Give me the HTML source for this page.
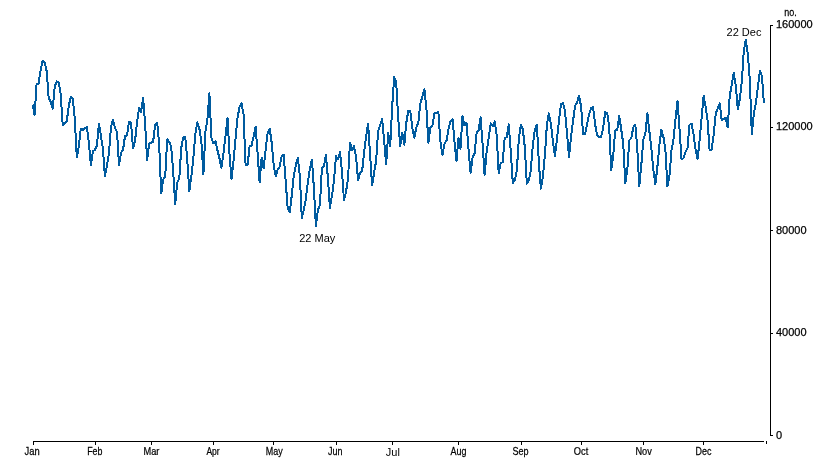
<!DOCTYPE html>
<html><head><meta charset="utf-8"><title>chart</title>
<style>
html,body{margin:0;padding:0;background:#fff;}
body{width:828px;height:475px;overflow:hidden;font-family:"Liberation Sans",sans-serif;}
svg{display:block;}
svg text{font-family:"Liberation Sans",sans-serif;font-size:11px;fill:#000;}
</style></head><body>
<svg width="828" height="475" viewBox="0 0 828 475">
<rect width="828" height="475" fill="#fff"/>
<rect x="33" y="441" width="731" height="1" fill="#000"/>
<rect x="33" y="441" width="1" height="4" fill="#000"/>
<rect x="95" y="441" width="1" height="4" fill="#000"/>
<rect x="151" y="441" width="1" height="4" fill="#000"/>
<rect x="213" y="441" width="1" height="4" fill="#000"/>
<rect x="273" y="441" width="1" height="4" fill="#000"/>
<rect x="336" y="441" width="1" height="4" fill="#000"/>
<rect x="392" y="441" width="1" height="4" fill="#000"/>
<rect x="458" y="441" width="1" height="4" fill="#000"/>
<rect x="521" y="441" width="1" height="4" fill="#000"/>
<rect x="581" y="441" width="1" height="4" fill="#000"/>
<rect x="643" y="441" width="1" height="4" fill="#000"/>
<rect x="703" y="441" width="1" height="4" fill="#000"/>
<rect x="766" y="441" width="1" height="3" fill="#000"/>
<rect x="770" y="25" width="1" height="411" fill="#000"/>
<g opacity="0.999" stroke="#000" stroke-width="0.25">
<rect x="770" y="25" width="3" height="1" fill="#000" stroke="none"/>
<text x="776" y="28">160000</text>
<rect x="770" y="127" width="3" height="1" fill="#000" stroke="none"/>
<text x="776" y="130">120000</text>
<rect x="770" y="230" width="3" height="1" fill="#000" stroke="none"/>
<text x="776" y="234">80000</text>
<rect x="770" y="333" width="3" height="1" fill="#000" stroke="none"/>
<text x="776" y="336">40000</text>
<rect x="770" y="435" width="3" height="1" fill="#000" stroke="none"/>
<text x="776" y="439">0</text>
<text class="m" transform="translate(32.05,455) scale(0.853,1)" text-anchor="middle">Jan</text>
<text class="m" transform="translate(94.85,455) scale(0.806,1)" text-anchor="middle">Feb</text>
<text class="m" transform="translate(151.45,455) scale(0.839,1)" text-anchor="middle">Mar</text>
<text class="m" transform="translate(213.05,455) scale(0.772,1)" text-anchor="middle">Apr</text>
<text class="m" transform="translate(274.15,455) scale(0.815,1)" text-anchor="middle">May</text>
<text class="m" transform="translate(335.15,455) scale(0.818,1)" text-anchor="middle">Jun</text>
<text class="m" transform="translate(458.45,455) scale(0.815,1)" text-anchor="middle">Aug</text>
<text class="m" transform="translate(520.55,455) scale(0.826,1)" text-anchor="middle">Sep</text>
<text class="m" transform="translate(581.05,455) scale(0.841,1)" text-anchor="middle">Oct</text>
<text class="m" transform="translate(643.65,455) scale(0.837,1)" text-anchor="middle">Nov</text>
<text class="m" transform="translate(703.50,455) scale(0.811,1)" text-anchor="middle">Dec</text>
<text transform="translate(784.3,16) scale(0.82,1)">no.</text>
</g>
<text x="392.80" y="456" text-anchor="middle">Jul</text>
<text x="317.3" y="242" text-anchor="middle">22 May</text>
<text x="744" y="36" text-anchor="middle">22 Dec</text>
<polyline shape-rendering="crispEdges" fill="none" stroke="#005b9f" stroke-width="2" stroke-linejoin="round" stroke-linecap="butt" points="32.6,104.5 34.6,115.0 36.6,84.0 38.6,83.5 40.6,70.0 42.6,60.7 44.7,62.8 46.7,71.4 48.7,98.0 50.7,101.8 52.7,108.8 54.7,86.6 56.7,81.5 58.7,82.2 60.7,94.5 62.7,125.0 64.7,123.4 66.8,121.0 68.8,105.7 70.8,96.9 72.8,98.5 74.8,119.0 76.8,157.5 78.8,146.0 80.8,128.5 82.8,129.8 84.8,128.5 86.8,127.0 88.9,143.0 90.9,165.3 92.9,151.0 94.9,150.0 96.9,145.6 98.9,124.0 100.9,135.5 102.9,149.0 104.9,176.0 106.9,166.0 108.9,154.0 111.0,126.6 113.0,119.7 115.0,127.9 117.0,131.7 119.0,165.3 121.0,152.7 123.0,150.0 125.0,136.2 127.0,135.6 129.0,121.9 131.0,122.5 133.0,148.3 135.1,140.5 137.1,121.7 139.1,107.8 141.1,112.2 143.1,98.3 145.1,123.0 147.1,160.3 149.1,143.8 151.1,142.6 153.1,142.0 155.1,125.0 157.2,122.7 159.2,145.0 161.2,193.6 163.2,179.5 165.2,176.5 167.2,139.4 169.2,141.7 171.2,147.0 173.2,171.5 175.2,204.2 177.2,183.0 179.3,178.0 181.3,147.6 183.3,137.5 185.3,136.9 187.3,160.3 189.3,191.2 191.3,176.5 193.3,159.0 195.3,134.0 197.3,122.3 199.3,128.0 201.4,141.6 203.4,174.4 205.4,132.0 207.4,119.1 209.4,93.2 211.4,138.0 213.4,143.5 215.4,141.0 217.4,150.2 219.4,158.0 221.4,168.0 223.5,153.0 225.5,136.0 227.5,118.2 229.5,154.0 231.5,179.2 233.5,161.0 235.5,139.0 237.5,118.4 239.5,107.0 241.5,103.2 243.5,114.0 245.6,165.3 247.6,165.0 249.6,146.5 251.6,145.3 253.6,136.7 255.6,126.6 257.6,153.0 259.6,182.4 261.6,157.7 263.6,168.4 265.6,150.0 267.7,132.3 269.7,128.9 271.7,142.8 273.7,165.3 275.7,176.0 277.7,169.7 279.7,166.5 281.7,156.4 283.7,154.7 285.7,181.5 287.7,208.4 289.8,212.2 291.8,195.0 293.8,175.4 295.8,165.3 297.8,157.7 299.8,175.0 301.8,217.9 303.8,210.0 305.8,199.0 307.8,183.0 309.8,169.0 311.9,159.6 313.9,188.0 315.9,226.1 317.9,210.3 319.9,205.0 321.9,168.0 323.9,166.5 325.9,155.0 327.9,178.0 329.9,208.0 331.9,196.0 333.9,181.6 336.0,156.0 338.0,159.5 340.0,151.9 342.0,171.5 344.0,200.6 346.0,191.7 348.0,179.0 350.0,142.4 352.0,150.6 354.0,146.1 356.0,156.0 358.1,180.3 360.1,172.8 362.1,171.5 364.1,152.0 366.1,136.7 368.1,123.4 370.1,155.0 372.1,185.4 374.1,172.8 376.1,161.0 378.1,131.6 380.2,124.7 382.2,119.0 384.2,141.7 386.2,164.5 388.2,132.9 390.2,146.1 392.2,106.0 394.2,77.0 396.2,82.1 398.2,118.0 400.2,146.1 402.3,132.9 404.3,144.9 406.3,122.8 408.3,110.6 410.3,110.9 412.3,127.8 414.3,137.9 416.3,127.5 418.3,122.8 420.3,103.5 422.3,96.7 424.4,89.2 426.4,108.0 428.4,143.0 430.4,127.2 432.4,125.3 434.4,113.2 436.4,112.6 438.4,112.0 440.4,141.7 442.4,155.1 444.4,144.2 446.5,140.5 448.5,129.0 450.5,121.5 452.5,119.0 454.5,141.7 456.5,160.9 458.5,138.0 460.5,148.8 462.5,116.4 464.5,125.3 466.5,122.8 468.6,150.6 470.6,172.9 472.6,157.6 474.6,153.5 476.6,132.9 478.6,130.3 480.6,117.4 482.6,144.0 484.6,174.8 486.6,152.2 488.6,138.0 490.7,123.4 492.7,126.0 494.7,121.5 496.7,135.4 498.7,173.5 500.7,163.4 502.7,162.1 504.7,138.0 506.7,137.3 508.7,124.4 510.7,150.0 512.8,183.0 514.8,180.5 516.8,170.4 518.8,139.6 520.8,124.8 522.8,129.2 524.8,147.0 526.8,183.7 528.8,180.5 530.8,170.4 532.8,145.0 534.9,129.2 536.9,124.8 538.9,164.0 540.9,188.7 542.9,176.7 544.9,155.0 546.9,124.8 548.9,113.4 550.9,124.1 552.9,141.6 554.9,155.9 556.9,140.0 559.0,120.3 561.0,103.9 563.0,103.3 565.0,110.9 567.0,133.0 569.0,157.1 571.0,137.0 573.0,121.6 575.0,105.8 577.0,102.6 579.0,95.7 581.1,106.4 583.1,134.5 585.1,134.0 587.1,124.1 589.1,114.0 591.1,108.3 593.1,107.0 595.1,124.1 597.1,135.5 599.1,136.8 601.1,136.8 603.2,127.9 605.2,112.1 607.2,113.1 609.2,126.7 611.2,170.4 613.2,156.5 615.2,130.5 617.2,129.8 619.2,115.9 621.2,129.2 623.2,143.5 625.3,183.0 627.3,170.4 629.3,140.3 631.3,138.0 633.3,127.3 635.3,124.8 637.3,149.0 639.3,186.2 641.3,165.3 643.3,139.5 645.3,134.2 647.4,113.4 649.4,131.7 651.4,148.5 653.4,170.4 655.4,184.3 657.4,166.6 659.4,145.1 661.4,129.8 663.4,136.8 665.4,149.5 667.4,186.2 669.5,175.5 671.5,150.2 673.5,139.3 675.5,119.1 677.5,100.8 679.5,129.0 681.5,159.0 683.5,158.4 685.5,152.0 687.5,148.3 689.5,124.8 691.6,123.8 693.6,134.9 695.6,149.4 697.6,159.0 699.6,140.3 701.6,118.0 703.6,95.8 705.6,106.5 707.6,121.0 709.6,150.5 711.6,149.5 713.7,135.0 715.7,113.5 717.7,108.4 719.7,103.4 721.7,120.0 723.7,119.2 725.7,117.9 727.7,127.4 729.7,96.4 731.7,84.5 733.7,73.0 735.8,86.0 737.8,109.1 739.8,99.0 741.8,82.0 743.8,50.9 745.8,39.5 747.8,54.0 749.8,79.5 751.8,134.4 753.8,114.1 755.8,103.4 757.8,88.0 759.9,71.0 761.9,76.0 763.9,102.8"/>
</svg>
</body></html>
